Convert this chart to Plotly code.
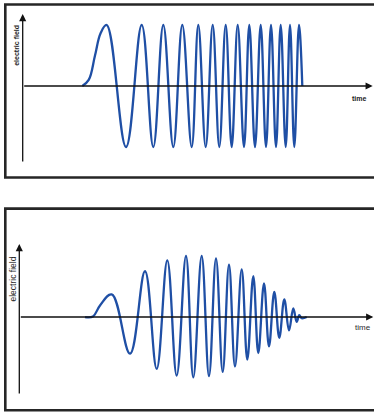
import plotly.graph_objects as go

# ---- data (time in arbitrary units from the axis origin,
# ---- field normalised to the largest swing) ----
top_time = [59.6, 66.0, 72.3, 78.0, 84.0, 103.3, 119.0, 130.6, 140.6, 150.6, 159.6, 169.0,
            175.6, 183.0, 190.0, 196.6, 203.0, 209.0, 215.0, 221.3, 226.6, 232.3,
            238.0, 243.3, 248.3, 253.3, 258.0, 263.0, 267.3, 271.6, 276.3, 279.6]
top_field = [0.0, 0.10, 0.50, 0.87, 1.0, -1.0, 1.0, -1.0, 1.0, -1.0, 1.0, -1.0,
             1.0, -1.0, 1.0, -1.0, 1.0, -1.0, 1.0, -1.0, 1.0, -1.0,
             1.0, -1.0, 1.0, -1.0, 1.0, -1.0, 1.0, -1.0, 1.0, 0.0]

bot_time = [65.7, 73.7, 80.7, 92.4, 110.7, 125.7, 137.4, 148.0, 157.4, 166.7, 174.0,
            182.4, 189.7, 196.7, 203.4, 209.7, 215.7, 222.4, 228.0, 234.0, 239.0,
            244.7, 249.7, 255.0, 260.0, 265.0, 269.7, 274.0, 277.4, 280.0, 282.4, 287.4]
bot_field = [0.0, 0.01, 0.19, 0.37, -0.60, 0.75, -0.85, 0.93, -0.96, 1.0, -0.99,
             1.0, -0.97, 0.96, -0.90, 0.86, -0.81, 0.78, -0.70, 0.67, -0.59,
             0.55, -0.48, 0.41, -0.34, 0.29, -0.22, 0.14, -0.08, 0.03, -0.02, 0.0]

axis_label_y = "electric field"
axis_label_x = "time"

W, H = 374, 412
BLUE = "#1f4fa5"
INK = "#111111"

fig = go.Figure()
fig.add_trace(go.Scatter(x=top_time, y=top_field, mode="lines",
                         line=dict(color=BLUE, width=2.3, shape="spline", smoothing=1.12),
                         xaxis="x", yaxis="y", hoverinfo="skip"))
fig.add_trace(go.Scatter(x=bot_time, y=bot_field, mode="lines",
                         line=dict(color=BLUE, width=2.3, shape="spline", smoothing=1.12),
                         xaxis="x2", yaxis="y2", hoverinfo="skip"))

hidden = dict(visible=False, showgrid=False, zeroline=False, fixedrange=True)
fig.update_layout(
    width=W, height=H, margin=dict(l=0, r=0, t=0, b=0),
    paper_bgcolor="white", plot_bgcolor="white", showlegend=False,
    xaxis=dict(domain=[0, 1], range=[-22.7, 351.3], anchor="y", **hidden),
    yaxis=dict(domain=[1 - 180 / H, 1], range=[-1.541, 1.410], anchor="x", **hidden),
    xaxis2=dict(domain=[0, 1], range=[-19.3, 354.7], anchor="y2", **hidden),
    yaxis2=dict(domain=[0, 212 / H], range=[-1.557, 1.918], anchor="x2", **hidden),
)

def arrow(xr, yr, x, y, ax, ay):
    fig.add_annotation(x=x, y=y, ax=ax, ay=ay, xref=xr, yref=yr, axref=xr, ayref=yr,
                       text="", showarrow=True, arrowhead=2, arrowsize=1.1,
                       arrowwidth=1.3, arrowcolor=INK, standoff=0, startstandoff=0)

# top panel axes
arrow("x", "y", 350, 0, 0, 0)
arrow("x", "y", 0, 1.18, 0, -1.262)
# bottom panel axes
arrow("x2", "y2", 354, 0, 0, 0)
arrow("x2", "y2", 0, 1.197, 0, -1.279)

fig.add_annotation(x=-6.9, y=0.672, xref="x", yref="y", text="<b>%s</b>" % axis_label_y,
                   textangle=-90, showarrow=False, xanchor="center", yanchor="middle",
                   font=dict(family="Liberation Sans, Arial", size=7, color="#222"))
fig.add_annotation(x=336.3, y=-0.2, xref="x", yref="y", text="<b>%s</b>" % axis_label_x,
                   showarrow=False, xanchor="center", yanchor="middle",
                   font=dict(family="Liberation Sans, Arial", size=7, color="#222"))
fig.add_annotation(x=-6.8, y=0.623, xref="x2", yref="y2", text=axis_label_y,
                   textangle=-90, showarrow=False, xanchor="center", yanchor="middle",
                   font=dict(family="Liberation Sans, Arial", size=8.5, color="#2a2a2a"))
fig.add_annotation(x=343.2, y=-0.175, xref="x2", yref="y2", text=axis_label_x,
                   showarrow=False, xanchor="center", yanchor="middle",
                   font=dict(family="Liberation Sans, Arial", size=8, color="#2a2a2a"))

# panel frames
def frame(left, top, bottom):
    fig.add_shape(type="rect", xref="paper", yref="paper",
                  x0=left / W, x1=1.02, y0=1 - bottom / H, y1=1 - top / H,
                  line=dict(color="#262626", width=2.6), fillcolor="rgba(0,0,0,0)")

frame(5.3, 4.5, 177.5)
frame(5.3, 208.6, 410.3)

fig.write_html("out.html", config={"displayModeBar": False},
               post_script="document.body.style.margin='0';document.body.style.overflow='hidden';")
